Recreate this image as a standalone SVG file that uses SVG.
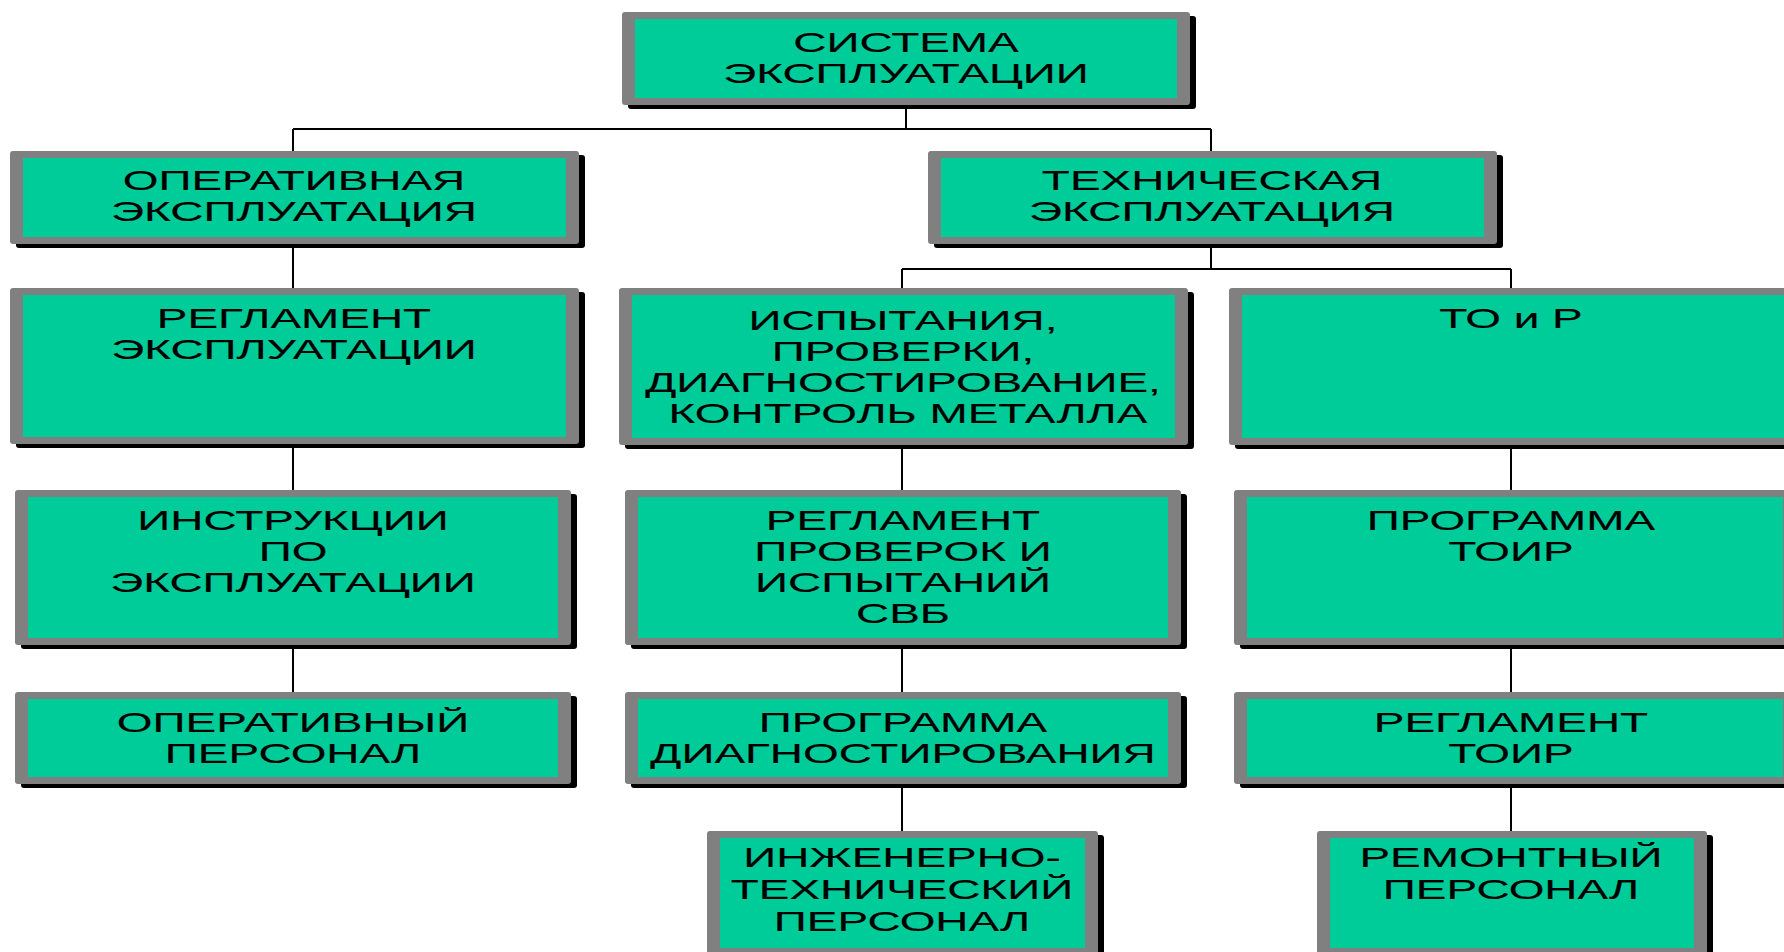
<svg xmlns="http://www.w3.org/2000/svg" width="1784" height="952" viewBox="0 0 1784 952">
<style>
.sh{fill:#000000}
.bd{fill:#808080}
.gr{fill:#00CC99}
.t{font-family:"Liberation Sans",Arial,sans-serif;font-size:28px;fill:#000000;text-anchor:middle;stroke:#000000;stroke-width:0.15}
.c{stroke:#000000;stroke-width:2;fill:none}
</style>
<rect x="0" y="0" width="1784" height="952" fill="#ffffff"/>
<g id="connectors">
<path class="c" d="M906 105V129M293 129H1211M293 129V151M1211 129V151"/>
<path class="c" d="M293 244V288M293 444V490M293 646V692"/>
<path class="c" d="M1211 244V269M902 269H1511M902 269V288M1511 269V288"/>
<path class="c" d="M902 445V490M902 646V692M902 784V831"/>
<path class="c" d="M1511 445V490M1511 646V692M1511 784V831"/>
</g>
<g id="n0">
<rect class="sh" x="628" y="16" width="568" height="93" rx="3"/>
<rect class="bd" x="622" y="12" width="568" height="93" rx="3"/>
<rect class="gr" x="635" y="19" width="542" height="79"/>
<g transform="translate(906,0) scale(1.64,1)"><text class="t" x="0" y="52">СИСТЕМА</text><text class="t" x="0" y="83">ЭКСПЛУАТАЦИИ</text></g>
</g>
<g id="n1">
<rect class="sh" x="16" y="155" width="569" height="93" rx="3"/>
<rect class="bd" x="10" y="151" width="569" height="93" rx="3"/>
<rect class="gr" x="23" y="158" width="543" height="79"/>
<g transform="translate(294,0) scale(1.64,1)"><text class="t" x="0" y="190">ОПЕРАТИВНАЯ</text><text class="t" x="0" y="221">ЭКСПЛУАТАЦИЯ</text></g>
</g>
<g id="n2">
<rect class="sh" x="934" y="155" width="569" height="93" rx="3"/>
<rect class="bd" x="928" y="151" width="569" height="93" rx="3"/>
<rect class="gr" x="941" y="158" width="543" height="79"/>
<g transform="translate(1212,0) scale(1.64,1)"><text class="t" x="0" y="190">ТЕХНИЧЕСКАЯ</text><text class="t" x="0" y="221">ЭКСПЛУАТАЦИЯ</text></g>
</g>
<g id="n3">
<rect class="sh" x="16" y="292" width="569" height="156" rx="3"/>
<rect class="bd" x="10" y="288" width="569" height="156" rx="3"/>
<rect class="gr" x="23" y="295" width="543" height="142"/>
<g transform="translate(294,0) scale(1.64,1)"><text class="t" x="0" y="328">РЕГЛАМЕНТ</text><text class="t" x="0" y="359">ЭКСПЛУАТАЦИИ</text></g>
</g>
<g id="n4">
<rect class="sh" x="625" y="292" width="569" height="157" rx="3"/>
<rect class="bd" x="619" y="288" width="569" height="157" rx="3"/>
<rect class="gr" x="632" y="295" width="543" height="143"/>
<g transform="translate(903,0) scale(1.64,1)"><text class="t" x="0" y="330">ИСПЫТАНИЯ,</text><text class="t" x="0" y="361">ПРОВЕРКИ,</text><text class="t" x="0" y="392">ДИАГНОСТИРОВАНИЕ,</text><text class="t" x="3" y="423">КОНТРОЛЬ МЕТАЛЛА</text></g>
</g>
<g id="n5">
<rect class="sh" x="1235" y="292" width="569" height="157" rx="3"/>
<rect class="bd" x="1229" y="288" width="569" height="157" rx="3"/>
<rect class="gr" x="1242" y="295" width="543" height="143"/>
<g transform="translate(1511,0) scale(1.64,1)"><text class="t" x="0" y="328">ТО и Р</text></g>
</g>
<g id="n6">
<rect class="sh" x="21" y="494" width="556" height="155" rx="3"/>
<rect class="bd" x="15" y="490" width="556" height="155" rx="3"/>
<rect class="gr" x="28" y="497" width="530" height="141"/>
<g transform="translate(293,0) scale(1.64,1)"><text class="t" x="0" y="530">ИНСТРУКЦИИ</text><text class="t" x="0" y="561">ПО</text><text class="t" x="0" y="592">ЭКСПЛУАТАЦИИ</text></g>
</g>
<g id="n7">
<rect class="sh" x="631" y="494" width="556" height="155" rx="3"/>
<rect class="bd" x="625" y="490" width="556" height="155" rx="3"/>
<rect class="gr" x="638" y="497" width="530" height="141"/>
<g transform="translate(903,0) scale(1.64,1)"><text class="t" x="0" y="530">РЕГЛАМЕНТ</text><text class="t" x="0" y="561">ПРОВЕРОК И</text><text class="t" x="0" y="592">ИСПЫТАНИЙ</text><text class="t" x="0" y="623">СВБ</text></g>
</g>
<g id="n8">
<rect class="sh" x="1240" y="494" width="562" height="155" rx="3"/>
<rect class="bd" x="1234" y="490" width="562" height="155" rx="3"/>
<rect class="gr" x="1247" y="497" width="536" height="141"/>
<g transform="translate(1511,0) scale(1.64,1)"><text class="t" x="0" y="530">ПРОГРАММА</text><text class="t" x="0" y="561">ТОИР</text></g>
</g>
<g id="n9">
<rect class="sh" x="21" y="696" width="556" height="92" rx="3"/>
<rect class="bd" x="15" y="692" width="556" height="92" rx="3"/>
<rect class="gr" x="28" y="699" width="530" height="78"/>
<g transform="translate(293,0) scale(1.64,1)"><text class="t" x="0" y="732">ОПЕРАТИВНЫЙ</text><text class="t" x="0" y="763">ПЕРСОНАЛ</text></g>
</g>
<g id="n10">
<rect class="sh" x="631" y="696" width="556" height="92" rx="3"/>
<rect class="bd" x="625" y="692" width="556" height="92" rx="3"/>
<rect class="gr" x="638" y="699" width="530" height="78"/>
<g transform="translate(903,0) scale(1.64,1)"><text class="t" x="0" y="732">ПРОГРАММА</text><text class="t" x="0" y="763">ДИАГНОСТИРОВАНИЯ</text></g>
</g>
<g id="n11">
<rect class="sh" x="1240" y="696" width="562" height="92" rx="3"/>
<rect class="bd" x="1234" y="692" width="562" height="92" rx="3"/>
<rect class="gr" x="1247" y="699" width="536" height="78"/>
<g transform="translate(1511,0) scale(1.64,1)"><text class="t" x="0" y="732">РЕГЛАМЕНТ</text><text class="t" x="0" y="763">ТОИР</text></g>
</g>
<g id="n12">
<rect class="sh" x="713" y="835" width="391" height="126" rx="3"/>
<rect class="bd" x="707" y="831" width="391" height="126" rx="3"/>
<rect class="gr" x="720" y="838" width="365" height="110"/>
<g transform="translate(902,0) scale(1.64,1)"><text class="t" x="0" y="867">ИНЖЕНЕРНО-</text><text class="t" x="0" y="899">ТЕХНИЧЕСКИЙ</text><text class="t" x="0" y="931">ПЕРСОНАЛ</text></g>
</g>
<g id="n13">
<rect class="sh" x="1323" y="835" width="390" height="126" rx="3"/>
<rect class="bd" x="1317" y="831" width="390" height="126" rx="3"/>
<rect class="gr" x="1330" y="838" width="364" height="110"/>
<g transform="translate(1511,0) scale(1.64,1)"><text class="t" x="0" y="867">РЕМОНТНЫЙ</text><text class="t" x="0" y="899">ПЕРСОНАЛ</text></g>
</g>
</svg>
